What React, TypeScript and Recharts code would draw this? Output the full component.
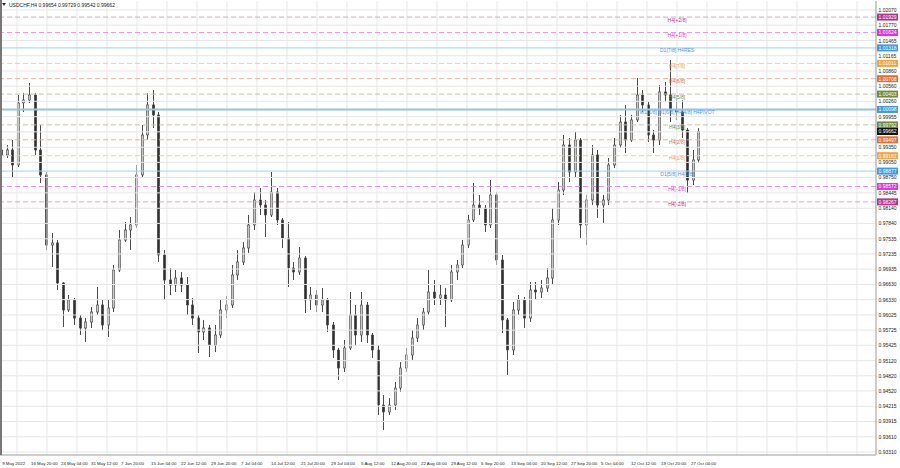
import { Bar, ComposedChart, ReferenceLine, Scatter, XAxis, YAxis } from "recharts"

// daily candles, 9 May 2022 .. 28 Oct 2022 (USDCHF)
const opens = [
  0.99295, 0.99196, 0.99295, 0.98998, 1.00227, 1.00286, 1.00385, 0.99295, 0.988, 0.97412,
  0.97452, 0.96659, 0.96124, 0.96322, 0.95965, 0.95767, 0.95886, 0.96084, 0.96223, 0.95827,
  0.96163, 0.96917, 0.97511, 0.97709, 0.97809, 0.988, 0.99592, 1.00187, 0.99989, 0.97214,
  0.96718, 0.96619, 0.96758, 0.96619, 0.96223, 0.95965, 0.95688, 0.95767, 0.9543, 0.95628,
  0.96124, 0.96223, 0.96818, 0.97075, 0.97353, 0.97809, 0.98304, 0.98205, 0.98007, 0.98463,
  0.97908, 0.97551, 0.96956, 0.96877, 0.97154, 0.96322, 0.96421, 0.96223, 0.96322, 0.95827,
  0.95331, 0.94974, 0.95371, 0.96025, 0.95628, 0.96223, 0.95628, 0.95331, 0.94241, 0.94102,
  0.94241, 0.94578, 0.94974, 0.95232, 0.95569, 0.95827, 0.96084, 0.96481, 0.96362, 0.96421,
  0.96322, 0.96877, 0.97016, 0.97412, 0.97908, 0.98205, 0.98145, 0.97809, 0.98403, 0.97115,
  0.95926, 0.95331, 0.96124, 0.96322, 0.95965, 0.9652, 0.96481, 0.9656, 0.96758, 0.97908,
  0.98502, 0.99394, 0.98859, 0.99493, 0.97809, 0.98304, 0.99196, 0.98205, 0.98304, 0.98998,
  0.99394, 0.9985, 0.99493, 0.9989, 1.00385, 1.00187, 0.99592, 0.99493, 1.00445, 1.00385,
  1.00088, 1.00048, 0.99691, 0.987, 0.99097,
]
const highs = [
  0.99434, 0.99394, 0.99493, 1.00385, 1.00425, 1.00623, 1.00425, 0.99791, 0.98859, 0.9765,
  0.97511, 0.96679, 0.96421, 0.96362, 0.96025, 0.95965, 0.96183, 0.9658, 0.96322, 0.96322,
  0.97016, 0.97709, 0.97868, 0.97967, 0.98998, 0.99791, 1.00425, 1.00484, 1.00048, 0.97313,
  0.96956, 0.96917, 0.96877, 0.96778, 0.96362, 0.96025, 0.95926, 0.95827, 0.95827, 0.96322,
  0.96401, 0.97016, 0.97313, 0.97472, 0.98007, 0.98463, 0.98542, 0.98304, 0.98859, 0.98542,
  0.97947, 0.97868, 0.97075, 0.97372, 0.97194, 0.9658, 0.9652, 0.9656, 0.96362, 0.95886,
  0.95371, 0.95529, 0.96481, 0.96223, 0.96481, 0.96282, 0.95668, 0.9543, 0.94439, 0.9438,
  0.94697, 0.95093, 0.95371, 0.95727, 0.95965, 0.96163, 0.96917, 0.96718, 0.96619, 0.9656,
  0.97016, 0.97115, 0.97511, 0.98007, 0.98641, 0.98403, 0.98205, 0.987, 0.98463, 0.97214,
  0.95965, 0.96282, 0.96421, 0.96382, 0.96679, 0.96679, 0.96718, 0.96956, 0.98145, 0.98661,
  0.99592, 0.99533, 0.99652, 0.99533, 0.98403, 0.99394, 0.99295, 0.98403, 0.99136, 0.99533,
  0.99989, 1.00187, 0.99989, 1.00722, 1.00484, 1.00246, 0.99691, 1.00583, 1.00643, 1.01078,
  1.00286, 1.00286, 0.99731, 0.99295, 0.99729,
]
const lows = [
  0.99097, 0.99136, 0.9876, 0.98958, 1.00048, 1.00227, 0.99196, 0.98641, 0.97313, 0.96976,
  0.9652, 0.95787, 0.96084, 0.95827, 0.95628, 0.9549, 0.95767, 0.96025, 0.95727, 0.95589,
  0.96084, 0.96877, 0.97472, 0.97313, 0.97749, 0.9874, 0.99493, 0.99731, 0.97075, 0.96322,
  0.96421, 0.96481, 0.96481, 0.96025, 0.95827, 0.95272, 0.95529, 0.95192, 0.95291, 0.95569,
  0.95965, 0.96163, 0.96718, 0.97016, 0.97254, 0.97709, 0.98007, 0.97571, 0.97967, 0.97809,
  0.97353, 0.9658, 0.96718, 0.96818, 0.96064, 0.96124, 0.96084, 0.96084, 0.95688, 0.95172,
  0.94736, 0.94895, 0.95331, 0.9543, 0.9549, 0.9547, 0.95172, 0.94043, 0.93745, 0.94043,
  0.94142, 0.94499, 0.94895, 0.95133, 0.9549, 0.95727, 0.96025, 0.96223, 0.96223, 0.95787,
  0.96282, 0.96718, 0.96956, 0.97353, 0.97868, 0.98007, 0.9767, 0.97749, 0.97016, 0.95668,
  0.94836, 0.95232, 0.96025, 0.95767, 0.95886, 0.96322, 0.96362, 0.96481, 0.96619, 0.97809,
  0.98403, 0.98661, 0.9874, 0.97551, 0.97412, 0.98205, 0.97947, 0.97848, 0.98205, 0.98938,
  0.99335, 0.99236, 0.99454, 0.9985, 1.00048, 0.99454, 0.99236, 0.99394, 1.00246, 0.9985,
  0.9989, 0.99533, 0.98443, 0.98601, 0.99037,
]
const closes = [
  0.99196, 0.99295, 0.98998, 1.00227, 1.00286, 1.00385, 0.99295, 0.988, 0.97412, 0.97452,
  0.96659, 0.96124, 0.96322, 0.95965, 0.95767, 0.95886, 0.96084, 0.96223, 0.95827, 0.96163,
  0.96917, 0.97511, 0.97709, 0.97809, 0.988, 0.99592, 1.00187, 0.99989, 0.97214, 0.96718,
  0.96619, 0.96758, 0.96619, 0.96223, 0.95965, 0.95688, 0.95767, 0.9543, 0.95628, 0.96124,
  0.96223, 0.96818, 0.97075, 0.97353, 0.97809, 0.98304, 0.98205, 0.98007, 0.98463, 0.97908,
  0.97551, 0.96956, 0.96877, 0.97154, 0.96322, 0.96421, 0.96223, 0.96322, 0.95827, 0.95331,
  0.94974, 0.95371, 0.96025, 0.95628, 0.96223, 0.95628, 0.95331, 0.94241, 0.94102, 0.94241,
  0.94578, 0.94974, 0.95232, 0.95569, 0.95827, 0.96084, 0.96481, 0.96362, 0.96421, 0.96322,
  0.96877, 0.97016, 0.97412, 0.97908, 0.98205, 0.98145, 0.97809, 0.98403, 0.97115, 0.95926,
  0.95331, 0.96124, 0.96322, 0.95965, 0.9652, 0.96481, 0.9656, 0.96758, 0.97908, 0.98502,
  0.99394, 0.98859, 0.99493, 0.97809, 0.98304, 0.99196, 0.98205, 0.98304, 0.98998, 0.99394,
  0.9985, 0.99493, 0.9989, 1.00385, 1.00187, 0.99592, 0.99493, 1.00445, 1.00385, 1.00088,
  1.00048, 0.99691, 0.987, 0.99097, 0.99662,
]

// time axis labels (position in trading days from 9 May)
const timeTicks = [
  0.7, 5.83, 11.17, 16.5, 21.83, 27.17, 32.5, 37.83, 43.17, 48.5, 53.83, 59.17,
  64.5, 69.83, 75.17, 80.5, 85.83, 91.17, 96.5, 101.83, 107.17, 112.5, 117.83, 123.17,
]
const timeLabels = [
  "9 May 2022", "16 May 20:00", "24 May 04:00", "31 May 12:00", "7 Jun 20:00", "15 Jun 04:00",
  "22 Jun 12:00", "29 Jun 20:00", "7 Jul 04:00", "14 Jul 12:00", "21 Jul 20:00", "29 Jul 04:00",
  "5 Aug 12:00", "12 Aug 20:00", "22 Aug 04:00", "29 Aug 12:00", "5 Sep 20:00", "13 Sep 04:00",
  "20 Sep 12:00", "27 Sep 20:00", "5 Oct 04:00", "12 Oct 12:00", "19 Oct 20:00", "27 Oct 04:00",
]
const timeGrid = [
  3.34, 8.67, 14.0, 19.34, 24.67, 30.0, 35.34, 40.67, 46.0, 51.34, 56.67, 62.0, 67.34, 72.67,
  78.0, 83.34, 88.67, 94.0, 99.34, 104.67, 110.0, 115.34, 120.67, 126.0, 131.34, 136.67, 142.0,
  147.34, 152.67,
]
const priceTicks = [
  1.0207, 1.0177, 1.01465, 1.01165, 1.0086, 1.0056, 1.0026, 0.99955, 0.99655, 0.9935,
  0.9905, 0.9875, 0.98445, 0.9814, 0.9784, 0.97535, 0.97235, 0.96935, 0.9663, 0.9633,
  0.96025, 0.95725, 0.95425, 0.9512, 0.9482, 0.9452, 0.94215, 0.93915, 0.9361, 0.9331,
]

// murrey math levels
const levelPrices = [
  1.01929, 1.01624, 1.01318, 1.01011, 1.00708, 1.00403, 1.00098,
  0.99792, 0.99497, 0.99182, 0.98877, 0.98572, 0.98267,
]
const levelNames = [
  "H4[+2/8]", "H4[+1/8]", "D1[7/8] H4RES", "H4[7/8]", "H4[6/8]", "H4[5/8]",
  "W1[1/8] D1[6/8] H4[4/8] H4PIVOT", "H4[3/8]", "H4[2/8]", "H4[1/8]", "D1[5/8] H4[0/8]",
  "H4[-1/8]", "H4[-2/8]",
]
const levelKinds = ["p2", "p1", "d1", "o7", "r6", "g5", "piv", "g5", "r6", "o7", "d1", "p1", "p2"]
const lastPrice = 0.99662
const titleText = "USDCHF,H4  0.99654 0.99729 0.99542 0.99662"

const kindStyle: Record<string, { box: string; line: string; dash?: string; w: number }> = {
  p2: { box: "#b3358d", line: "#d8a4cc", dash: "5 3", w: 1 },
  p1: { box: "#e233e2", line: "#ef90ef", dash: "5 3", w: 1 },
  d1: { box: "#3c9ae6", line: "#a6cdef", w: 1 },
  o7: { box: "#f2a43c", line: "#f4cf9e", dash: "5 3", w: 1 },
  r6: { box: "#ea6c30", line: "#e6b49a", dash: "5 3", w: 1 },
  g5: { box: "#6f8c3a", line: "#c6c0ac", dash: "5 3", w: 1 },
  piv: { box: "#3c9ae6", line: "#92c3ee", w: 2 },
}

const candles = opens.map((o, i) => ({
  t: i + 0.5,
  open: o,
  high: highs[i],
  low: lows[i],
  close: closes[i],
}))

const levelTexts = levelPrices.map((p, i) => ({ t: 120.7, p, name: levelNames[i], kind: levelKinds[i] }))

const FONT = "'Liberation Sans', Arial, sans-serif"

function Candle(props: any) {
  const { x, y, width, height, payload } = props
  if (!payload) return null
  const { open, close, high, low } = payload
  const top = Math.min(y, y + height)
  const h = Math.abs(height)
  const span = high - low || 1e-9
  const yOf = (v: number) => top + ((high - v) / span) * h
  const cx = Math.round(x + width / 2) + 0.5
  const bTop = yOf(Math.max(open, close))
  const bBot = yOf(Math.min(open, close))
  const bull = close >= open
  return (
    <g>
      <line x1={cx} x2={cx} y1={top} y2={top + h} stroke="#4a4a4a" strokeWidth={1} />
      <rect
        x={cx - 1.2}
        y={bTop}
        width={2.4}
        height={Math.max(bBot - bTop, 0.8)}
        fill={bull ? "#c8c8c8" : "#2e2e2e"}
        stroke="#4a4a4a"
        strokeWidth={0.6}
      />
    </g>
  )
}

function LevelText(props: any) {
  const { cx, cy, payload } = props
  if (cx == null || !payload) return null
  return (
    <text
      x={cx}
      y={cy + 2.5}
      textAnchor="middle"
      dominantBaseline="central"
      fontSize={5}
      fontFamily={FONT}
      fill={kindStyle[payload.kind].box}
    >
      {payload.name}
    </text>
  )
}

function PriceBox({ viewBox, value, color }: any) {
  if (!viewBox) return null
  const x = viewBox.x + viewBox.width + 1
  return (
    <g>
      <rect x={x} y={viewBox.y - 3.5} width={21} height={7} fill={color} />
      <text x={x + 1.5} y={viewBox.y} dominantBaseline="central" fontSize={5} fontFamily={FONT} fill="#ffffff">
        {value}
      </text>
    </g>
  )
}

function TimeTick({ x, y, payload }: any) {
  const i = timeTicks.indexOf(payload.value)
  return (
    <text x={x} y={y} textAnchor="start" dominantBaseline="central" fontSize={4.4} fontFamily={FONT} fill="#222">
      {timeLabels[i]}
    </text>
  )
}

function PriceTick({ x, y, payload }: any) {
  return (
    <text x={x - 5.5} y={y} dominantBaseline="central" fontSize={5} fontFamily={FONT} fill="#222">
      {payload.value.toFixed(5)}
    </text>
  )
}

export default function App() {
  const axisTicks = priceTicks.filter((p) => Math.abs(p - lastPrice) > 0.0006)
  return (
    <div style={{ position: "absolute", left: 0, top: 0, width: 900, height: 468, background: "#fff" }}>
      <ComposedChart width={900} height={468} data={candles} margin={{ top: 1, right: 0, bottom: 0, left: 0 }}>
        <XAxis
          type="number"
          dataKey="t"
          domain={[0.32, 156.06]}
          allowDataOverflow
          ticks={timeTicks}
          interval={0}
          tick={<TimeTick />}
          tickLine={false}
          height={13}
          stroke="#9a9a9a"
        />
        <YAxis
          orientation="right"
          type="number"
          domain={[0.9325, 1.02248]}
          allowDataOverflow
          ticks={axisTicks}
          interval={0}
          tick={<PriceTick />}
          tickLine={false}
          width={24}
          stroke="#9a9a9a"
        />
        {timeGrid.map((d) => (
          <ReferenceLine key={"v" + d} x={d} stroke="#e6e6e6" strokeWidth={1} />
        ))}
        {priceTicks.map((p) => (
          <ReferenceLine key={"h" + p} y={p} stroke="#e6e6e6" strokeWidth={1} />
        ))}
        {levelPrices.map((p, i) => {
          const s = kindStyle[levelKinds[i]]
          return (
            <ReferenceLine
              key={"l" + p}
              y={p}
              stroke={s.line}
              strokeWidth={s.w}
              strokeDasharray={s.dash}
              label={<PriceBox value={p.toFixed(5)} color={s.box} />}
            />
          )
        })}
        <ReferenceLine y={lastPrice} stroke="none" label={<PriceBox value={lastPrice.toFixed(5)} color="#111111" />} />
        <Bar
          dataKey={(d: any) => [d.low, d.high]}
          barSize={3}
          shape={<Candle />}
          isAnimationActive={false}
        />
        <Scatter data={levelTexts} dataKey="p" shape={<LevelText />} isAnimationActive={false} />
      </ComposedChart>
      <svg width={140} height={10} style={{ position: "absolute", left: 0, top: 0 }}>
        <path d="M2 3 L6 3 L4 6 Z" fill="#333" />
        <text x={9} y={5} dominantBaseline="central" fontSize={5} fontFamily={FONT} fill="#222">
          {titleText}
        </text>
      </svg>
      <div style={{ position: "absolute", left: 0, top: 0, width: 1.5, height: 455, background: "#777" }} />
    </div>
  )
}
